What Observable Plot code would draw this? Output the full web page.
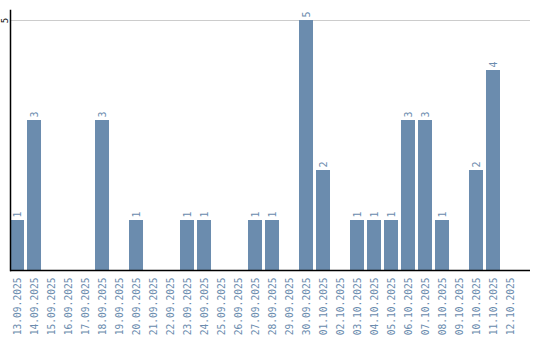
<!DOCTYPE html>
<html><head><meta charset="utf-8">
<script src="https://cdn.jsdelivr.net/npm/d3@7"></script>
<script src="https://cdn.jsdelivr.net/npm/@observablehq/plot@0.6"></script>
<style>body{margin:0;background:#fff}</style>
</head><body><div id="chart"></div>
<script>
const dates = ["13.09.2025","14.09.2025","15.09.2025","16.09.2025","17.09.2025","18.09.2025","19.09.2025","20.09.2025","21.09.2025","22.09.2025","23.09.2025","24.09.2025","25.09.2025","26.09.2025","27.09.2025","28.09.2025","29.09.2025","30.09.2025","01.10.2025","02.10.2025","03.10.2025","04.10.2025","05.10.2025","06.10.2025","07.10.2025","08.10.2025","09.10.2025","10.10.2025","11.10.2025","12.10.2025"];
const counts = [1,3,0,0,0,3,0,1,0,0,1,1,0,0,1,1,0,5,2,0,1,1,1,3,3,1,0,2,4,0];
const yTicks = [5];
const data = dates.map((d,i)=>({date:d, value:counts[i]}));
const barColor = "#6b8cae";
const textColor = "#6b8cae";
const mono = "'DejaVu Sans Mono', monospace";
const chart = Plot.plot({
  width: 540, height: 340,
  marginLeft: 10, marginRight: 10, marginTop: 10, marginBottom: 70,
  style: {fontFamily: mono, background: "#fff"},
  x: {type: "band", domain: dates, insetRight: 13, paddingInner: 0.176, paddingOuter: 0, align: 0, round: false, label: null},
  y: {domain: [0, 5.2], label: null},
  marks: [
    Plot.ruleY(yTicks, {stroke: "#cccccc"}),
    Plot.barY(data, {x: "date", y: "value", fill: barColor}),
    Plot.text(data.filter(d=>d.value>0), {x: "date", y: "value", text: d=>String(d.value), rotate: -90, textAnchor: "start", dy: -3, fill: textColor, fontSize: 10, fontFamily: mono}),
    Plot.axisX({tickSize: 0, tickPadding: 7, tickRotate: -90, fill: textColor, fontSize: 9.6, fontFamily: mono}),
    Plot.axisY(yTicks, {tickSize: 0, tickPadding: 3, tickRotate: -90, tickFormat: d=>String(d), fill: "#000", fontSize: 9, fontFamily: mono}),
    Plot.frame({anchor: "left", stroke: "#000", strokeWidth: 1.5}),
    Plot.ruleY([0], {stroke: "#000", strokeWidth: 1.5})
  ]
});
document.getElementById("chart").appendChild(chart);
</script></body></html>
